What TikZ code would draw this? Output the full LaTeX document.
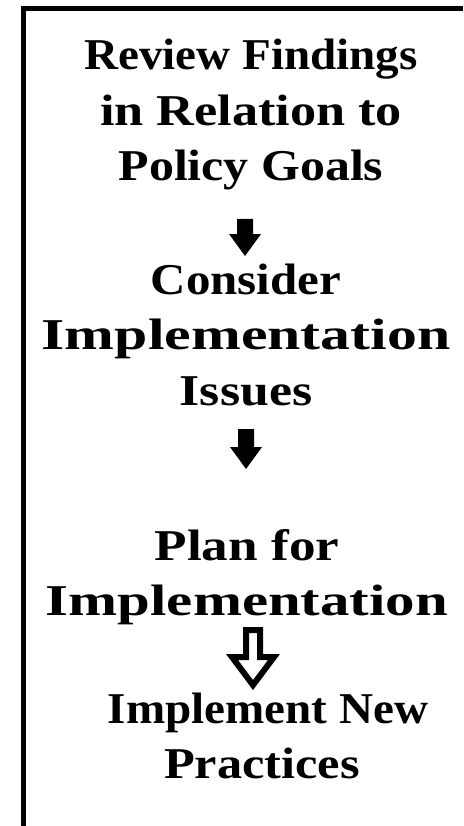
\documentclass[tikz,border=0pt]{standalone}
\usepackage{fontspec}
\usepackage{graphicx}
\setmainfont{Liberation Serif}[FakeStretch=1.07]
\newcommand{\hsc}[2]{\scalebox{#1}[1]{#2}}
\begin{document}
\begin{tikzpicture}[x=1pt,y=-1pt,
  steptext/.style={font=\fontsize{44}{55.5}\selectfont\bfseries, align=center, inner sep=0pt},
  frameline/.style={line width=5pt, line cap=butt},
  solidarrow/.style={fill=black},
  openarrow/.style={draw=black, line width=6pt, fill=white, miter limit=10}]
\useasboundingbox (0,0) rectangle (463,826);
\draw[frameline] (23.5,826) -- (23.5,9) -- (463,9);
\node[steptext] (review) at (251,114.5) {Review Findings\\\hsc{1.11}{in Relation to}\\\hsc{1.06}{Policy Goals}};
\node[steptext] (consider) at (246,334.6) {\hsc{1.04}{Consider}\\\hsc{1.27}{Implementation}\\\hsc{1.1}{Issues}};
\node[steptext] (plan) at (247,577) {\hsc{1.13}{Plan for}\\\hsc{1.25}{Implementation}};
\node[steptext] (impl) at (262,736) {\ Implement New\\\hsc{1.07}{Practices}};
% block arrows
\coordinate (a1) at (245,219);
\coordinate (a2) at (246,429);
\coordinate (a3) at (253,630);
\fill[solidarrow] (a1) ++(-8,0) -- ++(16,0) -- ++(0,15) -- ++(8,0) -- ++(-16,22) -- ++(-16,-22) -- ++(8,0) -- cycle;
\fill[solidarrow] (a2) ++(-8,0) -- ++(16,0) -- ++(0,18) -- ++(8,0) -- ++(-16,22) -- ++(-16,-22) -- ++(8,0) -- cycle;
\draw[openarrow] (a3) ++(-7,0) -- ++(14,0) -- ++(0,27) -- ++(14,0) -- ++(-21,28) -- ++(-21,-28) -- ++(14,0) -- cycle;
\end{tikzpicture}
\end{document}
